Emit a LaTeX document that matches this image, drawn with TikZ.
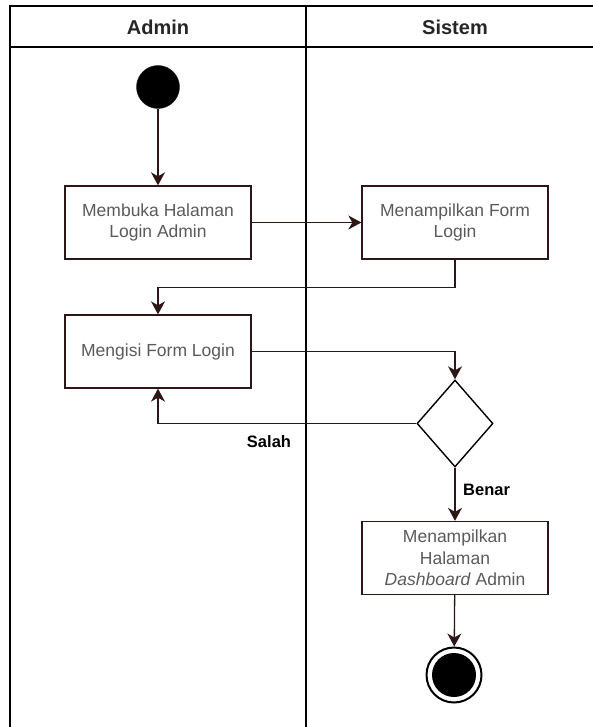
\documentclass[tikz,border=0pt]{standalone}
\usepackage{fontspec}
\setmainfont{Liberation Sans}
\usetikzlibrary{calc, positioning}
\usetikzlibrary{arrows.meta}
\usetikzlibrary{shapes.geometric}

\definecolor{edgebrown}{RGB}{45,22,22}
\definecolor{textgray}{RGB}{90,90,90}

\begin{document}
\begin{tikzpicture}[x=1pt, y=-1pt,
  lane/.style={draw=black, line width=1.6pt},
  header/.style={font=\bfseries\fontsize{20}{24}\selectfont, text=black!85, anchor=base},
  act/.style={draw=edgebrown, line width=1.3pt, minimum width=186pt, minimum height=73pt,
    inner sep=0pt, align=center, text=textgray, font=\fontsize{17.5}{21.5}\selectfont},
  flow/.style={draw=edgebrown, line width=1.3pt, -{Stealth[length=13pt, width=14pt, inset=4pt]}},
  guard/.style={font=\bfseries\fontsize{16.5}{19}\selectfont, inner sep=0pt}]
\def\laneL{10}
\def\laneM{306}
\def\laneR{600}
\def\laneT{6}
\def\headB{47}
\def\laneB{800}

\useasboundingbox (0,0) rectangle (593,727);
\clip (0,0) rectangle (593,727);

\draw[lane] (\laneL,\laneT) rectangle (\laneR,\laneB);
\draw[lane] (\laneL,\headB) -- (\laneR,\headB);
\draw[lane] (\laneM,\laneT) -- (\laneM,\laneB);

\node[header] (admin) at (158,35) {Admin};
\node[header] (sistem) at (455,35) {Sistem};

\node[circle, fill=black, draw=edgebrown, minimum size=43pt, inner sep=0pt] (start) at (158,87) {};

\node[act] (membuka) at (158,222.5) {Membuka Halaman\\Login Admin};
\node[act] (formlogin) at (455,222.5) {Menampilkan Form\\Login};
\node[act] (mengisi) at (158,351.5) {Mengisi Form Login};
\node[diamond, draw=black, line width=1.4pt, minimum width=76pt, minimum height=87pt, inner sep=0pt] (cek) at (455,423.5) {};
\node[act] (dashboard) at (455,558) {Menampilkan\\Halaman\\\textit{Dashboard} Admin};

\node[circle, draw=black, line width=2pt, minimum size=55pt, inner sep=0pt] (stop) at (454,675) {};
\node[circle, fill=black, minimum size=44pt, inner sep=0pt] (stopdot) at (stop) {};

\draw[flow] (start) -- (membuka);
\draw[flow] (membuka) -- (formlogin);
\draw[flow] (formlogin.south) -- ++(0,28) -| (mengisi.north);
\draw[flow] (mengisi.east) -| (cek.north);
\draw[flow] (cek.west) -| (mengisi.south);
\draw[flow] (cek.south) -- (dashboard.north);
\draw[flow] (dashboard) -- (stop);

\node[guard] (salah) at (269,442) {Salah};
\node[guard, anchor=west] (benar) at (463,490) {Benar};
\end{tikzpicture}
\end{document}
